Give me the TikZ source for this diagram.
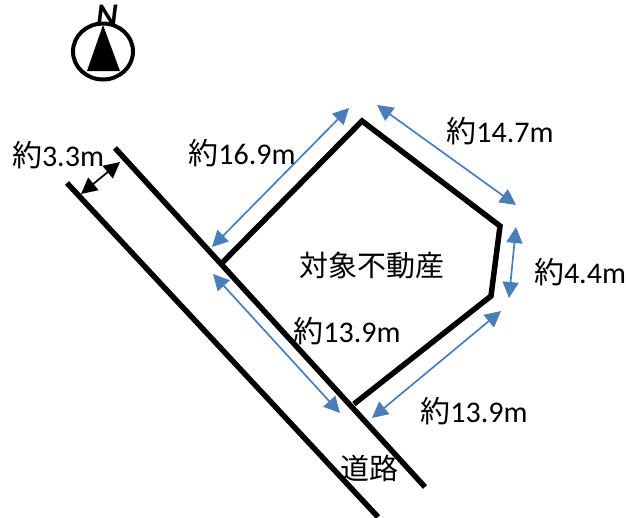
\documentclass[tikz,border=0pt]{standalone}
\usepackage{fontspec}
\setmainfont{Carlito}
\newfontfamily\jpfont{Noto Sans CJK JP}
\usetikzlibrary{arrows.meta}
\definecolor{dimblue}{RGB}{74,126,187}

\begin{document}
\begin{tikzpicture}[x=1pt,y=-1pt,
  wall/.style={line width=5.5pt,line cap=butt,line join=miter},
  road/.style={line width=5.5pt},
  blue dim/.style={draw=dimblue,line width=1.7pt,{Triangle[width=16pt,length=16pt]}-{Triangle[width=16pt,length=16pt]}},
  black dim/.style={draw=black,line width=1.7pt,{Triangle[width=16pt,length=16pt]}-{Triangle[width=16pt,length=16pt]}},
  dim label/.style={inner sep=0pt,font=\fontsize{30}{32}\selectfont}]

	\useasboundingbox (0,0) rectangle (626,517);

	% road
	\coordinate (r1) at (115,148);
	\coordinate (r2) at (425,487);
	\coordinate (r3) at (67,183);
	\coordinate (r4) at (378,517);
	\path (r1) edge [road] (r2);
	\path (r3) edge [road] (r4);

	% lot
	\coordinate (p1) at (220,265);
	\coordinate (p2) at (362,121);
	\coordinate (p3) at (500,226);
	\coordinate (p4) at (491,296);
	\coordinate (p5) at (354,404);
	\draw [wall] (p1) -- (p2) -- (p3) -- (p4) -- (p5);

	% dimension arrows
	\coordinate (a1) at (81,194);
	\coordinate (a2) at (120,162);
	\coordinate (b1) at (212,247);
	\coordinate (b2) at (349,108);
	\coordinate (c1) at (377,105);
	\coordinate (c2) at (516,205);
	\coordinate (d1) at (516,227);
	\coordinate (d2) at (509,298);
	\coordinate (e1) at (501,311);
	\coordinate (e2) at (372,418);
	\coordinate (f1) at (213,274);
	\coordinate (f2) at (340,413);
	\path (a1) edge [black dim] (a2);
	\path (b1) edge [blue dim] (b2);
	\path (c1) edge [blue dim] (c2);
	\path (d1) edge [blue dim] (d2);
	\path (e1) edge [blue dim] (e2);
	\path (f1) edge [blue dim] (f2);

	% labels
	\node[dim label] (w3) at (58,155) {{\jpfont 約}3.3m};
	\node[dim label] (l169) at (242,153) {{\jpfont 約}16.9m};
	\node[dim label] (l147) at (500,131) {{\jpfont 約}14.7m};
	\node[dim label] (l44) at (580,272) {{\jpfont 約}4.4m};
	\node[dim label] (l139a) at (347,331) {{\jpfont 約}13.9m};
	\node[dim label] (l139b) at (474,411) {{\jpfont 約}13.9m};
	\node[dim label,font=\fontsize{29}{32}\selectfont\jpfont] (lot) at (372,265) {対象不動産};
	\node[dim label,font=\fontsize{29}{32}\selectfont\jpfont] (roadname) at (369,468) {道路};

	% north mark
	\node[inner sep=0pt,font=\fontsize{33}{34}\selectfont\bfseries\itshape] (north) at (107,16) {N};
	\draw [line width=4pt] (103,51.5) ellipse [x radius=30,y radius=28];
	\fill (103,25) -- (120,71) -- (87,71) -- cycle;

\end{tikzpicture}
\end{document}
